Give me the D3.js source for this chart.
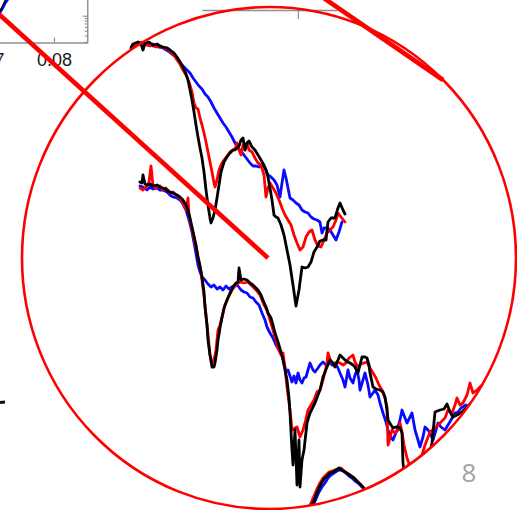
<!DOCTYPE html>
<html>
<head>
<meta charset="utf-8">
<script src="https://cdn.jsdelivr.net/npm/d3@7"></script>
<style>
  html, body { margin: 0; padding: 0; background: #fff; }
  svg { display: block; }
</style>
</head>
<body>
<svg id="chart" width="517" height="510"></svg>
<script>
// ---- Spectra inside the magnified view: [energy, offset intensity] ----
const g1Blue = [[13.2,45.4],[13.5,45.6],[13.8,45.7],[14.3,45.7],[14.8,45.6],[15.3,45.4],[15.8,45.3],[16.3,45.2],[16.8,44.9],[17.3,44.5],[17.7,44.2],[18.1,43.6],[18.4,43.3],[18.7,43.0],[19.0,42.7],[19.3,42.2],[19.6,41.8],[19.9,41.4],[20.2,41.1],[20.5,40.6],[20.8,40.3],[21.1,39.8],[21.4,39.2],[21.7,38.7],[22.0,38.2],[22.3,37.7],[22.6,37.3],[22.9,36.8],[23.2,36.3],[23.5,35.7],[23.8,35.2],[24.1,34.9],[24.4,34.5],[24.7,34.1],[25.0,33.7],[25.3,33.4],[25.6,33.4],[25.9,33.3],[26.2,33.5],[26.5,33.2],[26.8,32.5],[27.1,32.3],[27.4,32.0],[27.7,31.5],[28.0,30.3],[28.2,31.7],[28.4,33.0],[28.6,32.2],[28.8,31.2],[29.0,30.2],[29.3,30.0],[29.6,29.7],[29.9,29.5],[30.2,29.0],[30.5,28.8],[30.8,28.7],[31.1,28.3],[31.4,28.1],[31.7,28.0],[32.0,27.8],[32.2,26.7],[32.4,27.2],[32.7,27.2],[33.0,27.0],[33.3,26.5],[33.6,26.0],[33.9,26.8],[34.2,27.8]];
const g1Red = [[13.2,45.3],[13.5,45.5],[13.8,45.7],[14.2,45.8],[14.6,45.5],[15.0,45.4],[15.3,45.6],[15.6,45.3],[16.0,45.4],[16.4,45.2],[16.7,45.2],[17.0,44.8],[17.4,44.5],[17.7,44.0],[18.0,43.6],[18.3,43.0],[18.6,42.5],[18.9,41.8],[19.2,40.8],[19.4,39.7],[19.6,39.2],[19.8,39.1],[20.0,38.2],[20.2,37.5],[20.4,36.7],[20.6,35.8],[20.8,34.8],[21.0,33.8],[21.2,32.8],[21.4,31.7],[21.5,31.3],[21.7,32.0],[21.9,33.0],[22.1,33.5],[22.4,34.0],[22.7,34.4],[23.0,34.8],[23.3,35.0],[23.5,35.0],[23.7,35.7],[23.9,35.0],[24.1,34.5],[24.3,35.5],[24.5,35.2],[24.7,35.7],[24.9,35.0],[25.2,34.8],[25.5,34.2],[25.8,33.7],[26.1,33.5],[26.4,32.5],[26.6,30.3],[26.8,31.2],[27.0,31.7],[27.3,31.2],[27.6,30.7],[27.9,30.0],[28.2,29.2],[28.5,28.5],[28.8,28.0],[29.1,27.5],[29.4,26.5],[29.7,25.7],[30.0,25.0],[30.3,25.3],[30.6,26.3],[30.9,26.8],[31.2,27.0],[31.5,26.0],[31.8,25.4],[32.1,25.3],[32.4,26.0],[32.7,26.7],[33.0,27.0],[33.3,27.3],[33.6,28.0],[33.8,28.7],[34.1,28.3],[34.5,27.8]];
const g1Black = [[13.1,45.2],[13.3,45.6],[13.8,45.8],[14.1,45.6],[14.3,45.0],[14.5,45.7],[14.9,45.8],[15.3,45.5],[15.7,45.6],[16.0,45.4],[16.3,45.3],[16.7,45.2],[17.0,45.0],[17.4,44.7],[17.7,44.3],[18.0,43.8],[18.3,43.3],[18.6,42.6],[18.8,42.0],[19.0,41.0],[19.2,40.0],[19.4,38.8],[19.6,37.5],[19.8,36.3],[20.0,35.2],[20.2,34.2],[20.4,32.8],[20.6,31.0],[20.8,29.5],[21.0,28.2],[21.1,27.7],[21.3,28.2],[21.5,29.0],[21.7,30.2],[21.9,31.5],[22.1,32.8],[22.4,33.8],[22.7,34.3],[23.0,34.7],[23.3,35.0],[23.6,35.1],[23.9,35.4],[24.1,36.0],[24.3,36.2],[24.5,35.0],[24.7,35.7],[24.9,35.9],[25.2,35.3],[25.5,35.0],[25.8,34.5],[26.1,34.0],[26.4,33.5],[26.6,33.0],[26.8,32.3],[27.0,31.2],[27.2,30.0],[27.4,28.5],[27.6,28.3],[27.8,28.2],[28.1,27.5],[28.4,26.5],[28.7,25.0],[29.0,23.5],[29.3,21.5],[29.6,19.4],[29.9,21.0],[30.2,23.3],[30.5,23.2],[30.8,23.3],[31.1,23.8],[31.4,24.8],[31.7,25.3],[32.0,25.9],[32.3,26.0],[32.6,26.0],[32.8,27.8],[33.1,28.2],[33.5,28.2],[33.8,29.2],[34.0,29.7],[34.3,29.0],[34.5,28.6]];

const g2Blue = [[14.0,31.4],[14.3,31.3],[14.7,31.0],[15.0,31.3],[15.3,31.1],[15.7,31.2],[16.0,31.0],[16.3,31.0],[16.7,30.8],[17.0,30.5],[17.3,30.3],[17.7,30.2],[18.0,30.0],[18.3,29.6],[18.6,29.0],[18.9,28.0],[19.2,26.8],[19.5,25.2],[19.8,23.5],[20.0,22.8],[20.2,22.3],[20.5,22.0],[20.8,21.6],[21.1,21.3],[21.4,21.5],[21.7,21.1],[22.0,21.3],[22.3,21.0],[22.6,21.4],[22.9,21.1],[23.2,21.3],[23.5,21.5],[23.8,21.4],[24.1,21.0],[24.4,20.8],[24.7,20.7],[25.0,20.3],[25.3,20.2],[25.6,19.8],[25.9,19.5],[26.2,18.7],[26.5,18.0],[26.7,17.3],[27.0,16.7],[27.3,16.2],[27.6,15.5],[27.9,15.0],[28.2,14.5],[28.4,13.7],[28.6,12.8],[28.8,13.0],[29.0,12.4],[29.2,11.8],[29.4,12.4],[29.6,11.7],[29.8,12.7],[30.0,12.0],[30.2,11.7],[30.4,12.2],[30.6,12.3],[30.8,13.0],[31.0,13.7],[31.3,13.0],[31.5,12.8],[31.8,13.2],[32.0,13.5],[32.3,13.8],[32.6,13.5],[32.9,13.8],[33.2,13.5],[33.5,13.7],[33.8,13.2],[34.0,12.7],[34.3,12.0],[34.5,11.3],[34.8,13.0],[35.0,12.2],[35.3,11.7],[35.5,12.5],[35.7,13.0],[35.9,12.0],[36.0,11.0],[36.3,12.0],[36.5,12.7],[36.8,11.5],[37.0,10.3],[37.3,10.7],[37.5,11.0],[37.8,10.5],[38.0,9.7],[38.3,8.7],[38.6,7.8],[38.8,7.0],[39.1,6.3],[39.3,6.0],[39.5,6.5],[39.7,7.0],[40.0,8.0],[40.2,9.0],[40.5,8.2],[40.7,7.7],[41.0,8.3],[41.2,8.7],[41.5,7.0],[41.8,6.0],[42.0,5.3],[42.3,6.3],[42.5,7.3],[42.8,7.0],[43.0,6.7],[43.3,6.0],[43.6,7.0],[43.8,7.7],[44.1,7.3],[44.5,7.0],[44.8,7.5],[45.1,8.0],[45.5,8.7],[45.8,8.8],[46.1,9.2],[46.6,9.5]];
const g2Red = [[14.0,31.2],[14.3,31.0],[14.7,31.4],[14.9,31.8],[15.1,33.4],[15.3,31.4],[15.6,31.2],[16.0,31.4],[16.3,31.0],[16.6,31.2],[17.0,30.7],[17.3,30.8],[17.7,30.4],[18.0,30.2],[18.3,29.7],[18.6,29.0],[18.8,30.2],[18.9,28.5],[19.1,27.5],[19.3,26.7],[19.5,25.7],[19.8,24.3],[20.0,23.4],[20.2,22.0],[20.4,20.4],[20.6,18.5],[20.8,16.5],[21.0,14.5],[21.2,13.7],[21.4,14.0],[21.6,15.0],[21.8,17.0],[22.0,17.5],[22.2,18.2],[22.5,19.5],[22.8,20.2],[23.2,21.0],[23.6,21.5],[24.0,21.8],[24.4,21.7],[24.8,21.8],[25.2,21.4],[25.6,21.0],[26.0,20.5],[26.4,19.5],[26.7,19.0],[27.0,18.0],[27.3,17.0],[27.6,16.0],[27.8,15.2],[28.1,14.5],[28.3,14.7],[28.5,13.2],[28.7,11.3],[29.0,9.0],[29.2,7.0],[29.5,7.2],[29.7,7.3],[30.0,6.3],[30.3,7.0],[30.5,7.7],[30.8,9.0],[31.1,9.5],[31.4,10.0],[31.7,10.8],[32.0,11.0],[32.3,12.0],[32.5,12.8],[32.7,13.7],[32.8,14.7],[33.1,13.8],[33.4,13.5],[33.7,13.8],[34.0,13.7],[34.3,13.5],[34.6,13.7],[34.9,14.2],[35.3,14.5],[35.5,13.8],[35.8,13.3],[36.1,13.6],[36.4,13.7],[36.7,13.8],[37.0,13.2],[37.3,12.7],[37.6,12.2],[37.9,11.5],[38.2,11.0],[38.5,10.2],[38.7,9.3],[38.8,5.5],[39.0,6.2],[39.2,7.0],[39.5,6.7],[39.8,7.0],[40.0,7.7],[40.2,6.8],[40.4,5.5],[40.7,4.2],[41.2,2.8],[42.0,3.8],[42.5,5.5],[43.0,6.8],[43.5,7.2],[44.0,7.7],[44.5,8.2],[44.8,9.0],[45.2,8.7],[45.5,9.5],[45.7,10.2],[46.0,9.5],[46.3,9.7],[46.7,10.5],[47.0,11.7],[47.3,10.7],[47.7,11.0],[48.2,11.5],[48.8,12.0]];
const g2Black = [[14.0,31.8],[14.2,31.7],[14.3,32.5],[14.5,31.6],[14.7,31.5],[15.0,31.6],[15.3,31.4],[15.7,31.5],[16.0,31.3],[16.3,31.2],[16.7,31.0],[17.0,30.8],[17.3,30.7],[17.7,30.5],[18.0,30.3],[18.3,30.0],[18.6,29.5],[18.8,29.0],[19.0,28.2],[19.2,27.3],[19.4,26.4],[19.6,25.5],[19.8,24.3],[20.0,23.4],[20.2,22.3],[20.4,20.8],[20.5,19.3],[20.7,17.5],[20.8,16.0],[21.0,14.5],[21.2,13.3],[21.4,13.3],[21.5,13.7],[21.7,15.0],[21.8,16.0],[22.0,17.2],[22.2,18.3],[22.4,19.2],[22.7,20.0],[23.0,20.7],[23.3,21.3],[23.6,21.7],[23.8,21.8],[23.9,23.2],[24.1,22.0],[24.4,22.1],[24.7,22.0],[25.0,21.7],[25.3,21.5],[25.6,21.2],[25.8,21.0],[26.1,20.5],[26.3,20.0],[26.6,19.3],[26.8,18.7],[27.1,18.2],[27.3,17.5],[27.5,16.7],[27.8,15.8],[28.1,14.8],[28.3,14.0],[28.5,13.0],[28.7,12.0],[28.9,10.2],[29.0,8.7],[29.2,5.0],[29.3,3.5],[29.5,7.0],[29.7,1.5],[29.9,6.0],[30.0,1.3],[30.2,4.0],[30.4,5.0],[30.7,7.7],[31.0,8.7],[31.3,9.3],[31.5,9.7],[31.8,10.5],[32.0,11.0],[32.3,12.3],[32.5,12.8],[32.7,13.3],[33.0,14.0],[33.3,13.7],[33.5,13.3],[33.8,14.0],[34.0,14.5],[34.3,14.2],[34.5,14.0],[34.8,13.8],[35.0,13.7],[35.3,13.5],[35.5,13.3],[35.8,12.7],[36.0,13.5],[36.2,14.3],[36.5,14.3],[36.7,14.2],[36.9,13.5],[37.0,12.7],[37.3,11.3],[37.6,11.1],[38.0,11.0],[38.3,10.8],[38.5,10.3],[38.7,9.0],[38.8,8.0],[39.1,7.5],[39.3,7.2],[39.6,7.3],[39.8,7.3],[40.0,7.2],[40.2,6.7],[40.3,3.7],[40.5,2.0],[41.2,0.5],[42.0,1.0],[42.7,3.5],[43.2,5.7],[43.5,8.8],[44.0,9.0],[44.4,9.1],[44.7,9.6],[45.0,8.8],[45.3,8.3],[45.7,8.5],[46.2,8.8],[46.8,9.4],[47.6,10.2],[48.6,10.8]];

const g3Blue = [[30.6,-2.0],[31.3,-0.6],[31.6,0.1],[31.9,0.8],[32.2,1.3],[32.5,1.7],[32.8,2.2],[33.1,2.5],[33.4,2.7],[33.7,2.9],[34.0,3.0],[34.3,2.9],[34.6,2.7],[34.9,2.4],[35.2,2.2],[35.5,1.9],[35.8,1.7],[36.1,1.4],[36.4,1.1],[36.8,0.6],[37.3,-0.2]];
const g3Red = [[30.5,-1.8],[31.1,-0.3],[31.4,0.4],[31.7,1.1],[32.0,1.7],[32.3,2.2],[32.6,2.5],[32.9,2.8],[33.2,2.9],[33.5,3.0],[33.8,3.1],[34.1,3.2],[34.4,2.9],[34.7,2.7],[35.0,2.5],[35.3,2.3],[35.6,2.0],[35.9,1.7],[36.2,1.4],[36.6,0.9],[37.1,0.1]];
const g3Black = [[30.5,-2.0],[31.2,-0.5],[31.5,0.2],[31.8,1.0],[32.1,1.6],[32.4,2.1],[32.7,2.4],[33.0,2.7],[33.3,2.8],[33.6,3.0],[33.9,3.2],[34.2,3.0],[34.5,2.8],[34.8,2.6],[35.1,2.4],[35.4,2.2],[35.7,1.9],[36.0,1.6],[36.3,1.3],[36.7,0.8],[37.2,0.0]];

// Corner of the overview panel (upper left)
const overviewBlue = [[-0.2,48.4],[0.0,48.7],[0.3,49.2],[0.5,49.6],[0.7,49.9],[0.9,50.2]];
const overviewBlack = [[-0.2,48.6],[0.0,48.9],[0.2,49.3],[0.4,49.7],[0.6,50.1]];

// Overview axis ticks
const overviewXTicks = [0.07, 0.08];
const overviewYTicks = [3, 4, 5, 6, 7, 8, 9, 10];
const frameTicks = [0.71];

// Magnifier: ellipse and the two leader lines, in data units
const lens = { cx: 26.9, cy: 24.2, rx: 24.7, ry: 25.1 };
const leaderA = [[-1.0, 49.4], [26.8, 24.2]];
const leaderB = [[31.2, 51.0], [44.3, 42.0]];

const pageNumber = "8";

// ---- Drawing ----
const svg = d3.select("#chart");
const W = 517, H = 510;
svg.append("rect").attr("width", W).attr("height", H).attr("fill", "#fff");

const x = d3.scaleLinear().domain([0, 51.7]).range([0, 517]);
const y = d3.scaleLinear().domain([-5, 50]).range([550, 0]);
const line = d3.line().x(d => x(d[0])).y(d => y(d[1]));

const gray = "#8e8e8e";

// Overview panel axes (bottom axis + mirrored log axis on the right)
const ovX = d3.scaleLinear().domain([0.07, 0.085]).range([-13.5, 87.75]);
const ovY = d3.scaleLog().domain([1, 10]).range([65.7, 15.7]);
const ovBaseY = 42.5;

const ovg = svg.append("g");
ovg.append("path").datum(overviewBlue).attr("d", line)
  .attr("fill", "none").attr("stroke", "#0000ff").attr("stroke-width", 2.2);
ovg.append("path").datum(overviewBlack).attr("d", line)
  .attr("fill", "none").attr("stroke", "#000").attr("stroke-width", 1.6);

const xAx = ovg.append("g").attr("transform", `translate(0,${ovBaseY})`)
  .call(d3.axisBottom(ovX).tickValues(overviewXTicks)
    .tickSizeInner(-5).tickSizeOuter(0).tickPadding(10.5)
    .tickFormat(d3.format(".2f")));
xAx.select(".domain").attr("stroke", gray).attr("stroke-width", 1.4);
xAx.selectAll(".tick line").attr("stroke", gray).attr("stroke-width", 1.2);
xAx.selectAll("text").attr("fill", "#1a1a1a")
  .style("font-family", "'Liberation Sans', Arial, sans-serif").style("font-size", "18px");

const yAxG = ovg.append("g").attr("transform", `translate(${ovX(0.085)},0)`)
  .call(d3.axisLeft(ovY).tickValues(overviewYTicks).tickSize(3).tickFormat(""));
yAxG.select(".domain").remove();
yAxG.selectAll(".tick line").attr("stroke", gray).attr("stroke-width", 1.1)
  .attr("x2", d => d === 10 ? -5 : -3);
ovg.append("line")
  .attr("x1", ovX(0.085)).attr("x2", ovX(0.085))
  .attr("y1", -1).attr("y2", ovBaseY)
  .attr("stroke", gray).attr("stroke-width", 1.4);

// Frame of the next panel along the top edge
const frameX = d3.scaleLinear().domain([0, 1]).range([202, 337]);
const fr = svg.append("g").attr("transform", "translate(0,10)")
  .call(d3.axisTop(frameX).tickValues(frameTicks).tickSizeInner(-9).tickSizeOuter(0).tickFormat(""));
fr.select(".domain").attr("stroke", gray).attr("stroke-width", 1.4);
fr.selectAll(".tick line").attr("stroke", gray).attr("stroke-width", 1.2);

// Spectra; the lower traces are clipped to the lens
svg.append("clipPath").attr("id", "lensClip")
  .append("ellipse")
  .attr("cx", x(lens.cx)).attr("cy", y(lens.cy))
  .attr("rx", x(lens.rx) - x(0)).attr("ry", y(0) - y(lens.ry));

const blue = "#0a0aff", red = "#ff0000", black = "#000000";
const series = [
  { data: g1Blue, color: blue, clip: false }, { data: g2Blue, color: blue, clip: true }, { data: g3Blue, color: blue, clip: true },
  { data: g1Red, color: red, clip: false }, { data: g2Red, color: red, clip: true }, { data: g3Red, color: red, clip: true },
  { data: g1Black, color: black, clip: false }, { data: g2Black, color: black, clip: true }, { data: g3Black, color: black, clip: true }
];
const spectra = svg.append("g");
spectra.selectAll("path").data(series).join("path")
  .attr("d", d => line(d.data))
  .attr("clip-path", d => d.clip ? "url(#lensClip)" : null)
  .attr("fill", "none")
  .attr("stroke", d => d.color)
  .attr("stroke-width", 2.8)
  .attr("stroke-linejoin", "round")
  .attr("stroke-linecap", "round");

// Lens outline and leader lines
svg.append("ellipse")
  .attr("cx", x(lens.cx)).attr("cy", y(lens.cy))
  .attr("rx", x(lens.rx) - x(0)).attr("ry", y(0) - y(lens.ry))
  .attr("fill", "none").attr("stroke", "#ff0000").attr("stroke-width", 2.6);

[leaderA, leaderB].forEach(seg => {
  svg.append("path").datum(seg).attr("d", line)
    .attr("fill", "none").attr("stroke", "#ff0000")
    .attr("stroke-width", 4.6).attr("stroke-linecap", "butt");
});

// Fragment of a label at the left edge
svg.append("path").attr("d", "M0,402.6 L5,401.9")
  .attr("stroke", "#111").attr("stroke-width", 3);

// Slide number
svg.append("text")
  .attr("x", 469).attr("y", 482)
  .attr("text-anchor", "middle")
  .attr("fill", "#a3a3a3")
  .style("font-family", "'Open Sans', 'Liberation Sans', sans-serif")
  .style("font-size", "26px")
  .text(pageNumber);
</script>
</body>
</html>
